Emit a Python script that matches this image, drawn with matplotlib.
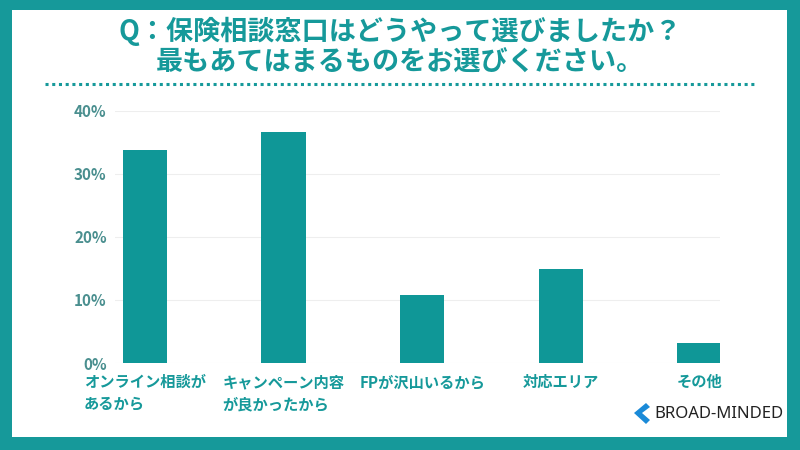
import matplotlib.pyplot as plt
from matplotlib.patches import Rectangle, Polygon

plt.rcParams['font.family'] = ['Noto Sans CJK JP', 'DejaVu Sans']

# データ
categories = ['オンライン相談が\nあるから', 'キャンペーン内容\nが良かったから', 'FPが沢山いるから', '対応エリア', 'その他']
values = [33.8, 36.6, 10.8, 14.9, 3.2]
yticks = [0, 10, 20, 30, 40]
ytick_labels = ['0%', '10%', '20%', '30%', '40%']

teal = '#16999a'
bar_color = '#0f9797'

fig = plt.figure(figsize=(8, 4.5), dpi=100)
fig.patch.set_facecolor(teal)

# 白い内側
W, H = 800, 450
fig.patches.append(Rectangle((12 / W, 13 / H), (787 - 12) / W, (440 - 13) / H,
                             transform=fig.transFigure, facecolor='white',
                             edgecolor='none', zorder=0))

# タイトル
fig.text(0.5, 1 - 31 / H, 'Q：保険相談窓口はどうやって選びましたか？', ha='center', va='center',
         fontsize=19.5, fontweight='bold', color=teal)
fig.text(0.5, 1 - 63 / H, '最もあてはまるものをお選びください。', ha='center', va='center',
         fontsize=19.5, fontweight='bold', color=teal)
fig.lines.append(plt.Line2D([45 / W, 755 / W], [1 - 84 / H, 1 - 84 / H], transform=fig.transFigure,
                            color=teal, linestyle=(0, (1, 1.2)), linewidth=2.2))

ax = fig.add_axes([115 / W, 1 - 363 / H, (720 - 115) / W, (363 - 111) / H])
ax.set_zorder(5)
x = list(range(len(categories)))
ax.bar(x, values, width=0.32, color=bar_color, zorder=3)
ax.set_xlim(-0.217, 4.15)
ax.set_ylim(0, 40)
ax.set_yticks(yticks)
ax.set_yticklabels(ytick_labels, fontsize=11, fontweight='bold', color='#4a8f8f')
ax.set_xticks(x)
ax.set_xticklabels(categories, fontsize=11, fontweight='bold', color=teal, linespacing=1.45,
                   multialignment='left', va='top')
ax.tick_params(axis='x', length=0, pad=8)
ax.tick_params(axis='y', length=0, pad=6)
ax.grid(axis='y', color='#eeeeee', linewidth=0.8, zorder=0)
for s in ax.spines.values():
    s.set_visible(False)
ax.set_facecolor('none')

# ロゴ
fig.patches.append(Polygon([(646 / W, 1 - 403 / H), (634 / W, 1 - 413 / H), (646 / W, 1 - 424 / H),
                            (650 / W, 1 - 420 / H), (642 / W, 1 - 413 / H), (650 / W, 1 - 407 / H)],
                           closed=True, transform=fig.transFigure, facecolor='#1a8ad8', edgecolor='none'))
fig.text(654 / W, 1 - 414 / H, 'BROAD-MINDED', ha='left', va='center', fontsize=12,
         color='#222222', family=['Noto Sans', 'DejaVu Sans'])

fig.savefig('out.png', dpi=100, facecolor=fig.get_facecolor())
